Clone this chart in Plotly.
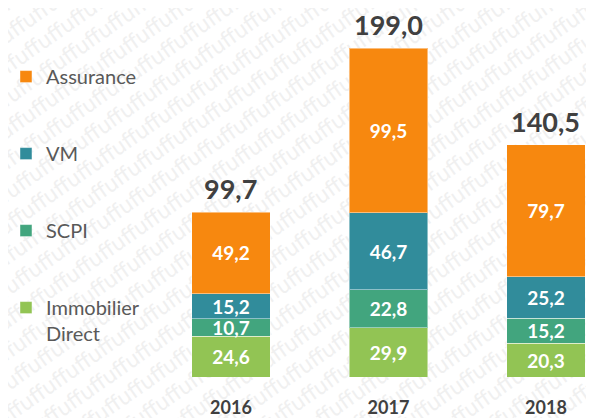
import base64
import plotly.graph_objects as go

years = ["2016", "2017", "2018"]
immobilier = [24.6, 29.9, 20.3]
scpi = [10.7, 22.8, 15.2]
vm = [15.2, 46.7, 25.2]
assurance = [49.2, 99.5, 79.7]
totals = [99.7, 199.0, 140.5]

series = [
    ("Immobilier<br>Direct", immobilier, "#92C454", 4),
    ("SCPI", scpi, "#42A57E", 3),
    ("VM", vm, "#318C9B", 2),
    ("Assurance", assurance, "#F7880F", 1),
]

def fr(v):
    return f"{v:.1f}".replace(".", ",")

FONT = "Lato, 'Open Sans', sans-serif"

fig = go.Figure()
for i, (name, vals, col, rank) in enumerate(series):
    fig.add_trace(go.Bar(
        x=years, y=vals, name=name, width=0.5,
        marker=dict(color=col, line=dict(color="rgba(255,255,255,0.45)", width=1)),
        text=[fr(v) for v in vals], textposition="inside", insidetextanchor="middle",
        textfont=dict(family=FONT, size=19, color="white", weight="bold"),
        textangle=0, constraintext="none",
        legendgroup=f"g{i}", legendrank=rank, hoverinfo="skip",
    ))

for idx, tot in enumerate(totals):
    fig.add_annotation(
        x=idx, y=tot, text=f"<b>{fr(tot)}</b>", showarrow=False,
        xanchor="center", yanchor="bottom", yshift=6, borderpad=0,
        font=dict(family=FONT, size=27, color="#404040"),
    )

# faint watermark pattern
rows = []
for k in range(-30, 40):
    rows.append(f'<text x="-600" y="{k*26}" font-family="DejaVu Sans" font-size="21" fill="#f0f0f0">{"uff"*60}</text>')
svg = ('<svg xmlns="http://www.w3.org/2000/svg" width="594" height="418">'
       '<g transform="rotate(-35 297 209)">' + "".join(rows) + '</g></svg>')
uri = "data:image/svg+xml;base64," + base64.b64encode(svg.encode()).decode()

PLOT_H = 369
fig.update_layout(
    width=594, height=418,
    margin=dict(l=0, r=0, t=0, b=418 - PLOT_H, autoexpand=False),
    barmode="stack",
    paper_bgcolor="white", plot_bgcolor="rgba(0,0,0,0)",
    font=dict(family=FONT, color="#595959"),
    showlegend=True,
    legend=dict(
        x=-0.0034, y=0.867, xanchor="left", yanchor="top",
        font=dict(family=FONT, size=20, color="#595959"),
        traceorder="grouped", tracegroupgap=48,
        valign="top", bgcolor="rgba(0,0,0,0)", itemwidth=30,
    ),
    xaxis=dict(type="category", range=[-1.416, 2.356], showgrid=False, zeroline=False,
               showline=False, automargin=False,
               ticks="", tickfont=dict(family=FONT, size=18, color="#404040", weight="bold"),
               ticklabelstandoff=18),
    yaxis=dict(range=[0, PLOT_H / 1.653], visible=False, showgrid=False, zeroline=False,
               automargin=False),
    images=[dict(source=uri, xref="paper", yref="paper", x=0, y=1, sizex=1, sizey=418 / PLOT_H,
                 xanchor="left", yanchor="top", sizing="stretch", layer="below")],
)

fig.write_html("out.html")
